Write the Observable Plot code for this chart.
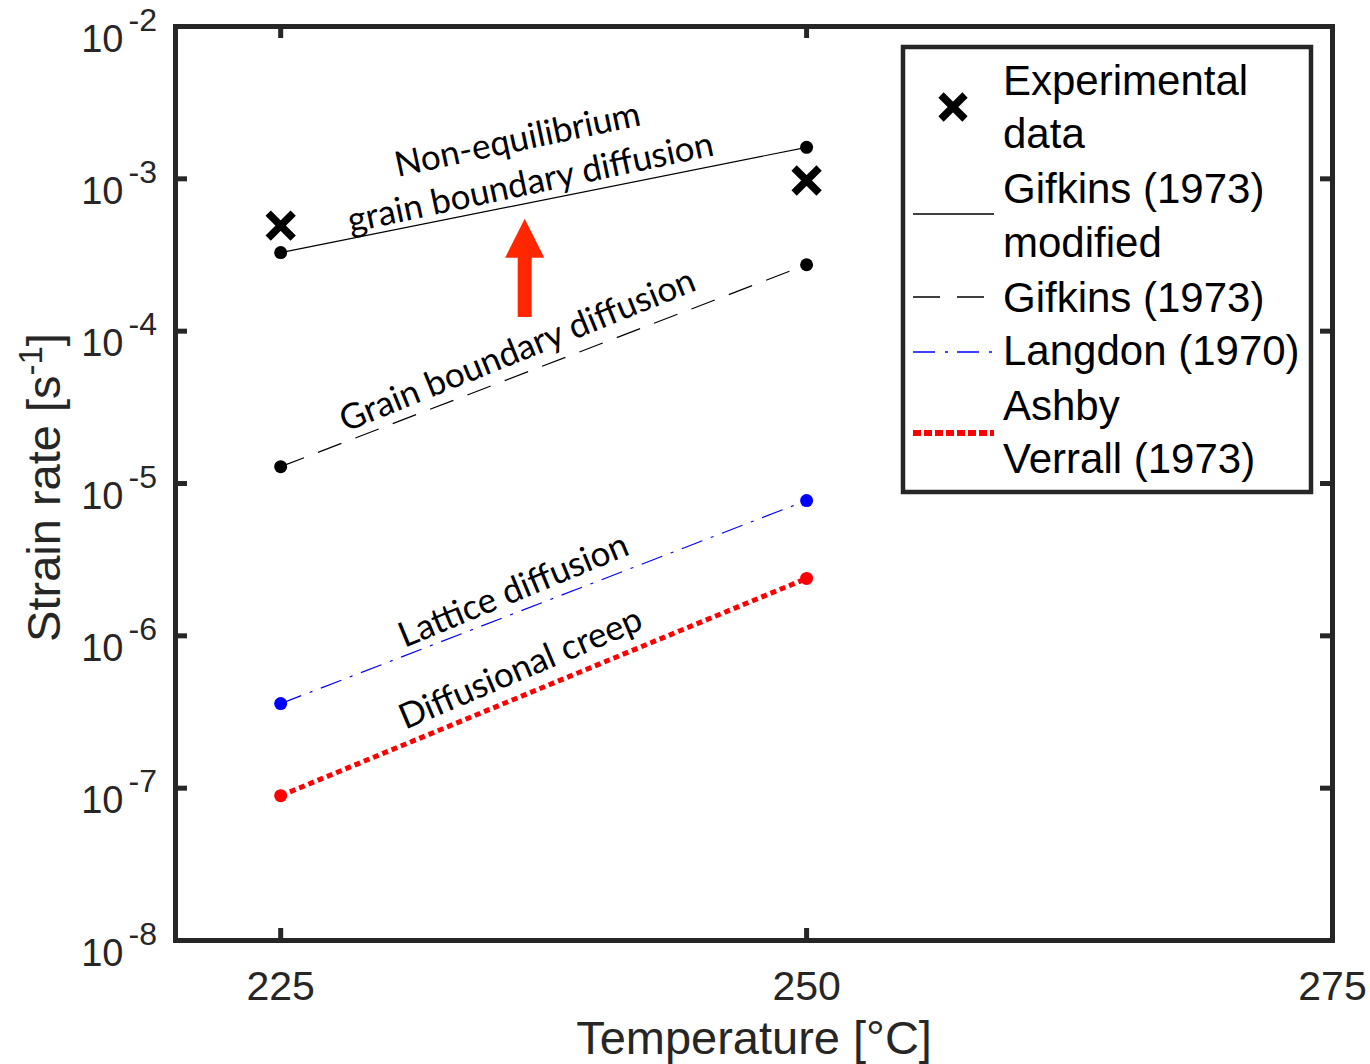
<!DOCTYPE html>
<html><head><meta charset="utf-8">
<script src="https://cdn.jsdelivr.net/npm/d3@7"></script>
<script src="https://cdn.jsdelivr.net/npm/@observablehq/plot@0.6"></script>
<style>
html,body{margin:0;padding:0;background:#fff;overflow:hidden;}
#chart svg{display:block;}
</style></head><body><div id="chart"></div>
<script>
// ---- data ----
const temps = [225, 250];
const gifkinsModified = [3.28e-4, 1.61e-3];
const gifkins = [1.29e-5, 2.73e-4];
const langdon = [3.59e-7, 7.73e-6];
const ashbyVerrall = [8.93e-8, 2.38e-6];
const experimental = [4.93e-4, 9.75e-4];
const xTicks = [225, 250, 275];
const yTicks = [1e-8, 1e-7, 1e-6, 1e-5, 1e-4, 1e-3, 1e-2];
const annotationTexts = ["Non-equilibrium", "grain boundary diffusion", "Grain boundary diffusion", "Lattice diffusion", "Diffusional creep"];
const annotationX = [236.26, 236.88, 236.26, 236.07, 236.41];
const annotationY = [1.8e-3, 9.4e-4, 7.46e-5, 1.98e-6, 6.09e-7];
const annotationAngle = [-12, -12, -22, -22.5, -23];
const arrowX = [236.6];
const arrowTail = [1.23e-4];
const arrowBase = [3.04e-4];
const arrowHeadCenter = [4.08e-4];
const legendLabels = ["Experimental", "data", "Gifkins (1973)", "modified", "Gifkins (1973)", "Langdon (1970)", "Ashby", "Verrall (1973)"];

const pts = (vals) => temps.map((t, i) => ({t, v: vals[i]}));
const annotations = annotationTexts.map((s, i) => ({s, x: annotationX[i], y: annotationY[i], a: annotationAngle[i]}));

const crossSymbol = {draw(ctx, size) { const r = Math.sqrt(size / Math.PI); ctx.moveTo(-r, -r); ctx.lineTo(r, r); ctx.moveTo(r, -r); ctx.lineTo(-r, r); }};
const headSymbol = {draw(ctx, size) { const r = Math.sqrt(size / Math.PI); ctx.moveTo(0, -r); ctx.lineTo(r, r); ctx.lineTo(-r, r); ctx.closePath(); }};

const W = 1370, H = 1064, mL = 175, mR = 38, mT = 26, mB = 124;
const pw = W - mL - mR, ph = H - mT - mB;
const axisColor = "#262626";
const annFont = "Lato, 'Open Sans', sans-serif";

const chart = Plot.plot({
  width: W, height: H,
  marginLeft: mL, marginRight: mR, marginTop: mT, marginBottom: mB,
  x: {type: "linear", domain: [220, 275], axis: null},
  y: {type: "log", domain: [1e-8, 1e-2], axis: null},
  style: {fontFamily: "'Liberation Sans', Arial, sans-serif", background: "white", overflow: "visible"},
  marks: [
    // lines
    Plot.line(pts(gifkinsModified), {x: "t", y: "v", stroke: "black", strokeWidth: 1.2}),
    Plot.line(pts(gifkins), {x: "t", y: "v", stroke: "black", strokeWidth: 1.2, strokeDasharray: "25,15", strokeLinecap: "butt"}),
    Plot.line(pts(langdon), {x: "t", y: "v", stroke: "#0000ff", strokeWidth: 1.2, strokeDasharray: "22,9,3,9", strokeLinecap: "butt"}),
    Plot.line(pts(ashbyVerrall), {x: "t", y: "v", stroke: "#ff0000", strokeWidth: 5, strokeDasharray: "6,4", strokeLinecap: "butt"}),
    // endpoint dots
    Plot.dot(pts(gifkinsModified), {x: "t", y: "v", fill: "black", r: 6.5}),
    Plot.dot(pts(gifkins), {x: "t", y: "v", fill: "black", r: 6.5}),
    Plot.dot(pts(langdon), {x: "t", y: "v", fill: "#0000ff", r: 6.5}),
    Plot.dot(pts(ashbyVerrall), {x: "t", y: "v", fill: "#ff0000", r: 6.5}),
    // experimental
    Plot.dot(pts(experimental), {x: "t", y: "v", symbol: crossSymbol, r: 12.5, stroke: "black", strokeWidth: 7.5, fill: "none"}),
    // arrow
    Plot.ruleX(arrowX.map((x, i) => ({x, y1: arrowTail[i], y2: arrowBase[i]})), {x: "x", y1: "y1", y2: "y2", stroke: "#ff2600", strokeWidth: 14}),
    Plot.dot(arrowX.map((x, i) => ({x, y: arrowHeadCenter[i]})), {x: "x", y: "y", symbol: headSymbol, r: 19.5, fill: "#ff2600", stroke: "none"}),
    // annotations
    Plot.text(annotations, {x: "x", y: "y", text: "s", rotate: (d) => d.a, fontSize: 35, fontFamily: annFont, fill: "black", textAnchor: "middle", lineAnchor: "middle"}),
    // frame & inward ticks
    Plot.frame({stroke: axisColor, strokeWidth: 5}),
    Plot.tickX(xTicks, {x: (d) => d, insetTop: ph - 12, stroke: axisColor, strokeWidth: 5}),
    Plot.tickX(xTicks, {x: (d) => d, insetBottom: ph - 12, stroke: axisColor, strokeWidth: 5}),
    Plot.tickY(yTicks, {y: (d) => d, insetRight: pw - 12, stroke: axisColor, strokeWidth: 5}),
    Plot.tickY(yTicks, {y: (d) => d, insetLeft: pw - 12, stroke: axisColor, strokeWidth: 5}),
    // tick labels
    Plot.text(xTicks, {x: (d) => d, frameAnchor: "bottom", text: (d) => String(d), fontSize: 41, dy: 46, textAnchor: "middle", lineAnchor: "middle", fill: axisColor}),
    Plot.text(yTicks, {y: (d) => d, frameAnchor: "left", text: () => "10", textAnchor: "end", lineAnchor: "middle", fontSize: 38, dx: -52, dy: 13, fill: axisColor}),
    Plot.text(yTicks, {y: (d) => d, frameAnchor: "left", text: (d) => String(Math.round(Math.log10(d))), textAnchor: "start", lineAnchor: "middle", fontSize: 32, dx: -47, dy: -6, fill: axisColor}),
    // axis titles
    Plot.text(["Temperature [°C]"], {frameAnchor: "bottom", text: (d) => d, fontSize: 47, dy: 98, textAnchor: "middle", lineAnchor: "middle", fill: axisColor}),
    Plot.text(["Strain rate [s{-1}]"], {frameAnchor: "left", text: (d) => d, rotate: -90, fontSize: 47, dx: -131, dy: 4, textAnchor: "middle", lineAnchor: "middle", fill: axisColor})
  ]
});

// superscripts in titles
d3.select(chart).selectAll("text").each(function() {
  const t = this.textContent;
  const m = t.match(/^(.*)\{([^}]*)\}(.*)$/);
  if (!m) return;
  const el = d3.select(this);
  el.text("");
  el.append("tspan").text(m[1]);
  el.append("tspan").attr("dy", -18).attr("font-size", 33).text(m[2]);
  el.append("tspan").attr("dy", 18).text(m[3]);
});

// legend
const svg = d3.select(chart);
const lg = svg.append("g").attr("font-family", "'Liberation Sans', Arial, sans-serif").attr("text-anchor", "start");
lg.append("rect").attr("x", 903).attr("y", 47).attr("width", 408).attr("height", 445)
  .attr("fill", "white").attr("stroke", axisColor).attr("stroke-width", 4.5);
const baselines = [95, 148, 203, 257, 312, 365, 420, 473];
legendLabels.forEach((s, i) => {
  lg.append("text").attr("x", 1003).attr("y", baselines[i]).attr("font-size", 42).attr("fill", "black").attr("text-anchor", "start").text(s);
});
const cx = 953, cy = 107, cr = 12;
lg.append("path").attr("d", `M${cx-cr},${cy-cr}L${cx+cr},${cy+cr}M${cx+cr},${cy-cr}L${cx-cr},${cy+cr}`)
  .attr("stroke", "black").attr("stroke-width", 7.5).attr("fill", "none");
lg.append("line").attr("x1", 913).attr("x2", 994).attr("y1", 214).attr("y2", 214).attr("stroke", "black").attr("stroke-width", 1.3);
lg.append("line").attr("x1", 913).attr("x2", 994).attr("y1", 297).attr("y2", 297).attr("stroke", "black").attr("stroke-width", 1.3).attr("stroke-dasharray", "27,17");
lg.append("line").attr("x1", 913).attr("x2", 994).attr("y1", 352).attr("y2", 352).attr("stroke", "#0000ff").attr("stroke-width", 1.3).attr("stroke-dasharray", "22,10,3,9");
lg.append("line").attr("x1", 913).attr("x2", 994).attr("y1", 433).attr("y2", 433).attr("stroke", "#ff0000").attr("stroke-width", 6).attr("stroke-dasharray", "8,3");

document.getElementById("chart").appendChild(chart);
</script>
</body></html>
